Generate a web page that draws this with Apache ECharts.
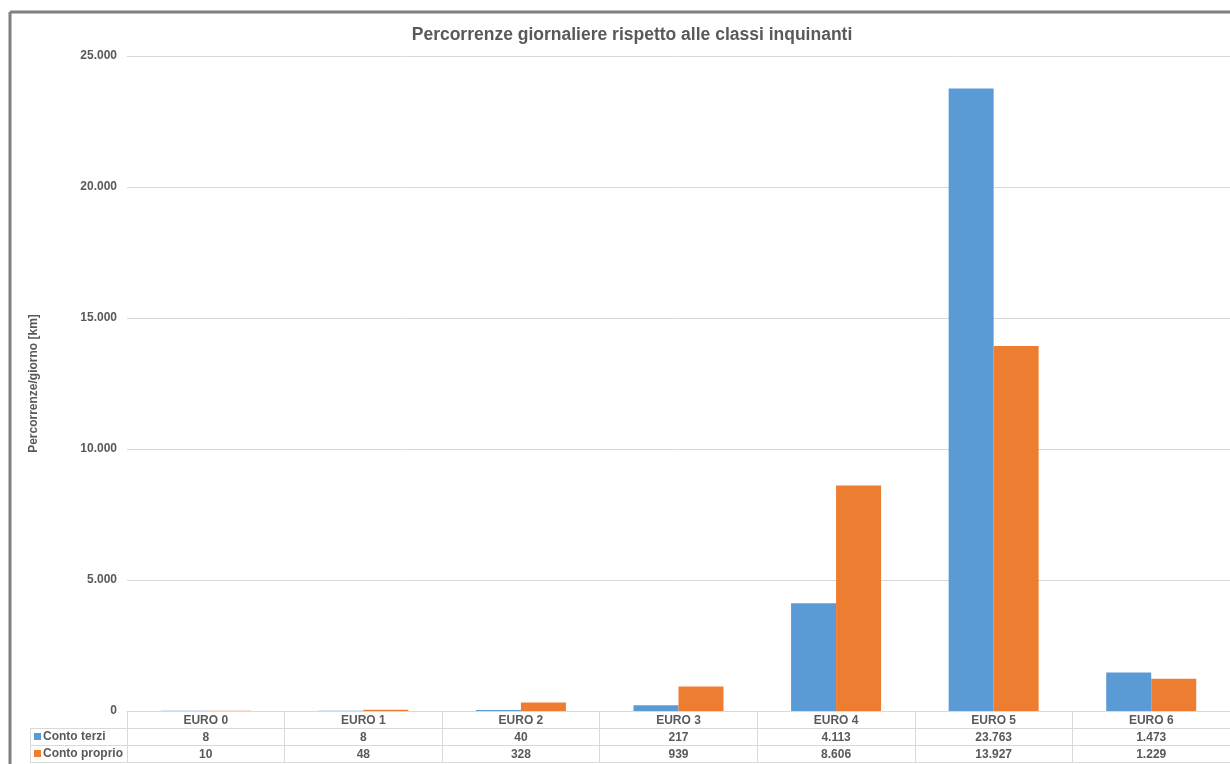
<!DOCTYPE html>
<html>
<head>
<meta charset="utf-8">
<script src="https://cdn.jsdelivr.net/npm/echarts@6/dist/echarts.min.js"></script>
<style>
  html, body { margin: 0; padding: 0; background: #fff; }
  #chart { width: 1230px; height: 764px; }
</style>
</head>
<body>
<div id="chart"></div>
<script>
// dati
const categories = ['EURO 0', 'EURO 1', 'EURO 2', 'EURO 3', 'EURO 4', 'EURO 5', 'EURO 6']
const contoTerzi = [8, 8, 40, 217, 4113, 23763, 1473]
const contoProprio = [10, 48, 328, 939, 8606, 13927, 1229]
const seriesNames = ['Conto terzi', 'Conto proprio']
const colors = ['#5b9bd5', '#ed7d31']

const textColor = '#595959'
const lineColor = '#d9d9d9'
const font = '"Liberation Sans", Arial, sans-serif'

// formato italiano: 23.763
function fmt(v) {
  return String(v).replace(/\B(?=(\d{3})+(?!\d))/g, '.')
}

const gridLeft = 127
const gridTop = 56
const gridBottom = 53
const rowH = 17
const axisY = 764 - gridBottom

const chart = echarts.init(document.getElementById('chart'), null, { renderer: 'canvas' })

const option = {
  backgroundColor: '#fff',
  animation: false,
  textStyle: { fontFamily: font },
  title: {
    text: 'Percorrenze giornaliere rispetto alle classi inquinanti',
    left: 627,
    textAlign: 'center',
    top: 21,
    textStyle: {
      fontFamily: font,
      fontSize: 17.5,
      fontWeight: 'bold',
      color: textColor
    }
  },
  grid: {
    left: gridLeft,
    right: 0,
    top: gridTop,
    bottom: gridBottom,
    containLabel: false,
    outerBoundsMode: 'none'
  },
  xAxis: {
    type: 'category',
    data: categories,
    axisLine: { show: true, lineStyle: { color: lineColor, width: 1 } },
    axisTick: { show: true, length: rowH * 3 + 1, lineStyle: { color: lineColor, width: 1 } },
    axisLabel: {
      interval: 0,
      margin: 1,
      formatter: function(value, idx) {
        return '{h|' + value + '}\n{v|' + fmt(contoTerzi[idx]) + '}\n{v|' + fmt(contoProprio[idx]) + '}'
      },
      rich: {
        h: { fontFamily: font, fontSize: 12, fontWeight: 'bold', color: textColor, lineHeight: rowH, height: rowH },
        v: { fontFamily: font, fontSize: 12, fontWeight: 'bold', color: textColor, lineHeight: rowH, height: rowH }
      }
    },
    splitLine: { show: false }
  },
  yAxis: {
    type: 'value',
    min: 0,
    max: 25000,
    interval: 5000,
    name: 'Percorrenze/giorno [km]',
    nameLocation: 'middle',
    nameGap: 87,
    nameRotate: 90,
    nameTextStyle: {
      fontFamily: font,
      fontSize: 12,
      fontWeight: 'bold',
      color: textColor
    },
    axisLine: { show: false },
    axisTick: { show: false },
    axisLabel: {
      margin: 10,
      fontFamily: font,
      fontSize: 12,
      fontWeight: 'bold',
      color: textColor,
      formatter: fmt
    },
    splitLine: { lineStyle: { color: lineColor, width: 1 } }
  },
  series: [
    {
      name: seriesNames[0],
      type: 'bar',
      data: contoTerzi,
      barWidth: 45,
      barGap: '0%',
      itemStyle: { color: colors[0] }
    },
    {
      name: seriesNames[1],
      type: 'bar',
      data: contoProprio,
      barWidth: 45,
      barGap: '0%',
      itemStyle: { color: colors[1] }
    }
  ],
  graphic: [
    // cornice
    { type: 'line', shape: { x1: 10, y1: 12, x2: 1230, y2: 12 }, style: { stroke: '#808080', lineWidth: 3 } },
    { type: 'line', shape: { x1: 10, y1: 12, x2: 10, y2: 764 }, style: { stroke: '#808080', lineWidth: 3 } },
    // righe della tabella dati
    { type: 'line', shape: { x1: 30, y1: axisY + rowH + 0.5, x2: 1230, y2: axisY + rowH + 0.5 }, style: { stroke: lineColor, lineWidth: 1 } },
    { type: 'line', shape: { x1: 30, y1: axisY + rowH * 2 + 0.5, x2: 1230, y2: axisY + rowH * 2 + 0.5 }, style: { stroke: lineColor, lineWidth: 1 } },
    { type: 'line', shape: { x1: 30, y1: axisY + rowH * 3 + 0.5, x2: 1230, y2: axisY + rowH * 3 + 0.5 }, style: { stroke: lineColor, lineWidth: 1 } },
    { type: 'line', shape: { x1: 30.5, y1: axisY + rowH, x2: 30.5, y2: axisY + rowH * 3 }, style: { stroke: lineColor, lineWidth: 1 } },
    // legenda nella tabella
    { type: 'rect', shape: { x: 34, y: axisY + rowH + 5, width: 7, height: 7 }, style: { fill: colors[0] } },
    { type: 'text', x: 43, y: axisY + rowH + 9, style: { text: seriesNames[0], fill: textColor, font: 'bold 12px ' + font, textVerticalAlign: 'middle' } },
    { type: 'rect', shape: { x: 34, y: axisY + rowH * 2 + 5, width: 7, height: 7 }, style: { fill: colors[1] } },
    { type: 'text', x: 43, y: axisY + rowH * 2 + 9, style: { text: seriesNames[1], fill: textColor, font: 'bold 12px ' + font, textVerticalAlign: 'middle' } }
  ]
}

chart.setOption(option)
</script>
</body>
</html>
